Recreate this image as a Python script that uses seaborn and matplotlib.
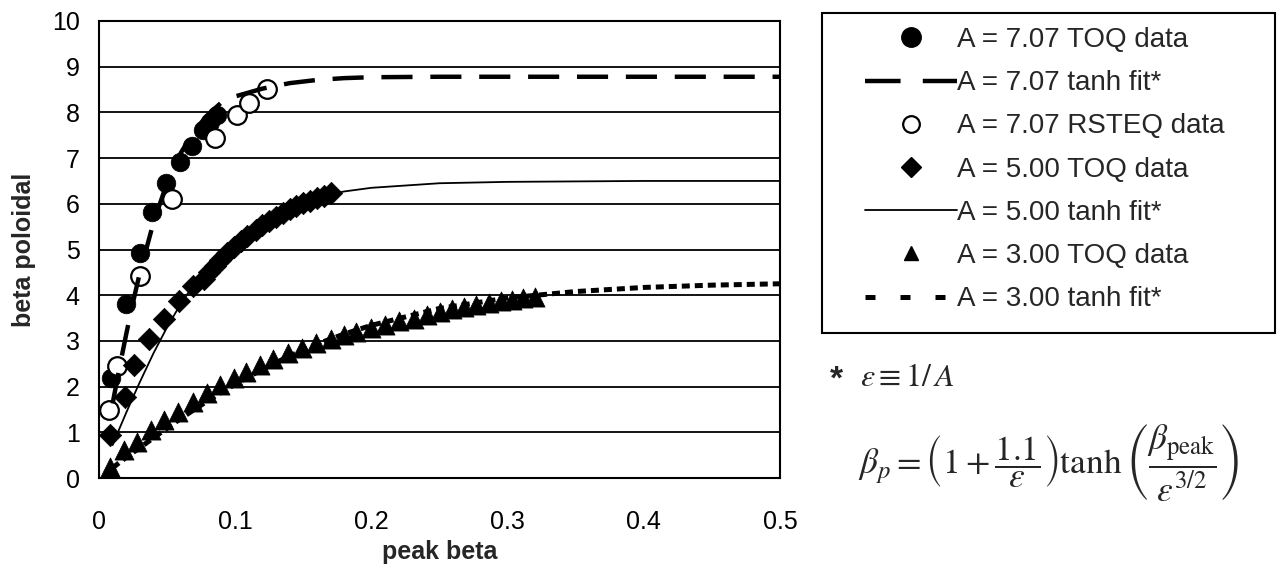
import numpy as np
import pandas as pd
import matplotlib
matplotlib.use("Agg")
import matplotlib.pyplot as plt
from matplotlib.lines import Line2D
from matplotlib.patches import Rectangle
import seaborn as sns

# ---- datos ----
toq707_x = [0.0088, 0.0196, 0.0301, 0.0389, 0.0492, 0.0595, 0.0685, 0.0766, 0.0815, 0.0864]
toq707_y = [2.18, 3.81, 4.92, 5.82, 6.45, 6.92, 7.26, 7.61, 7.80, 7.94]

rsteq707_x = [0.0073, 0.0130, 0.0301, 0.0538, 0.0852, 0.1011, 0.1101, 0.1231]
rsteq707_y = [1.49, 2.44, 4.42, 6.10, 7.43, 7.94, 8.20, 8.51]

toq500_x = [0.008, 0.019, 0.026, 0.037, 0.048, 0.059, 0.069, 0.077, 0.081, 0.085,
            0.089, 0.094, 0.099, 0.104, 0.109, 0.115, 0.120, 0.125, 0.130, 0.135,
            0.140, 0.145, 0.150, 0.155, 0.160, 0.165, 0.170]
toq500_y = [0.94, 1.78, 2.47, 3.04, 3.49, 3.88, 4.20, 4.36, 4.50, 4.64,
            4.77, 4.92, 5.06, 5.18, 5.30, 5.42, 5.53, 5.62, 5.72, 5.80,
            5.88, 5.95, 6.01, 6.07, 6.12, 6.18, 6.23]

toq300_x = [0.008, 0.018, 0.028, 0.038, 0.048, 0.058, 0.069, 0.079, 0.089, 0.099,
            0.108, 0.118, 0.128, 0.139, 0.149, 0.159, 0.170, 0.180, 0.189, 0.200,
            0.210, 0.220, 0.231, 0.241, 0.250, 0.259, 0.268, 0.277, 0.286, 0.295,
            0.303, 0.311, 0.320]
toq300_y = [0.25, 0.61, 0.79, 1.05, 1.27, 1.45, 1.67, 1.85, 2.03, 2.18,
            2.33, 2.47, 2.60, 2.73, 2.84, 2.95, 3.04, 3.13, 3.20, 3.28,
            3.35, 3.44, 3.49, 3.57, 3.63, 3.69, 3.74, 3.79, 3.83, 3.87,
            3.90, 3.94, 3.97]

fit_x = [0.01, 0.015, 0.02, 0.025, 0.03, 0.04, 0.05, 0.06, 0.07, 0.08, 0.09, 0.10,
         0.12, 0.14, 0.16, 0.18, 0.20, 0.25, 0.30, 0.35, 0.40, 0.45, 0.50]
fit707_y = [1.63, 2.41, 3.15, 3.85, 4.49, 5.59, 6.46, 7.11, 7.60, 7.95, 8.22, 8.35,
            8.52, 8.64, 8.71, 8.75, 8.77, 8.78, 8.78, 8.78, 8.78, 8.78, 8.78]
fit500_y = [0.72, 1.08, 1.43, 1.77, 2.10, 2.73, 3.30, 3.81, 4.25, 4.64, 4.97, 5.24,
            5.67, 5.96, 6.15, 6.27, 6.35, 6.45, 6.48, 6.49, 6.50, 6.50, 6.50]
fit300_y = [0.22, 0.34, 0.45, 0.56, 0.66, 0.88, 1.09, 1.30, 1.50, 1.69, 1.88, 2.05,
            2.38, 2.67, 2.93, 3.15, 3.34, 3.71, 3.94, 4.08, 4.17, 4.22, 4.25]

x_ticks = [0, 0.1, 0.2, 0.3, 0.4, 0.5]
x_tick_labels = ["0", "0.1", "0.2", "0.3", "0.4", "0.5"]
y_ticks = list(range(0, 11))

legend_labels = ["A = 7.07 TOQ data", "A = 7.07 tanh fit*", "A = 7.07 RSTEQ data",
                 "A = 5.00 TOQ data", "A = 5.00 tanh fit*", "A = 3.00 TOQ data",
                 "A = 3.00 tanh fit*"]

# ---- estilo ----
sns.set_style("white")
plt.rcParams['font.family'] = ['Liberation Sans', 'DejaVu Sans']
plt.rcParams['mathtext.fontset'] = 'stix'

fig = plt.figure(figsize=(12.85, 5.68), dpi=100)
ax = fig.add_axes([99 / 1285, 1 - 478 / 568, 681 / 1285, 457 / 568])

df_toq707 = pd.DataFrame({'x': toq707_x, 'y': toq707_y})
df_rsteq707 = pd.DataFrame({'x': rsteq707_x, 'y': rsteq707_y})
df_toq500 = pd.DataFrame({'x': toq500_x, 'y': toq500_y})
df_toq300 = pd.DataFrame({'x': toq300_x, 'y': toq300_y})
df_fit = pd.DataFrame({'x': fit_x, 'f707': fit707_y, 'f500': fit500_y, 'f300': fit300_y})

# lineas horizontales de la rejilla
for yv in y_ticks[1:]:
    ax.axhline(yv, color='black', lw=1.3, zorder=0)

sns.scatterplot(data=df_toq707, x='x', y='y', marker='o', s=180, color='black',
                edgecolor='black', linewidth=0.5, ax=ax, zorder=3)
sns.lineplot(data=df_fit, x='x', y='f707', color='black', linewidth=3.2,
             linestyle=(0, (7, 4)), sort=False, estimator=None, ax=ax, zorder=4)
sns.scatterplot(data=df_rsteq707, x='x', y='y', marker='o', s=180, color='white',
                edgecolor='black', linewidth=1.6, ax=ax, zorder=3)
sns.scatterplot(data=df_toq500, x='x', y='y', marker='D', s=130, color='black',
                edgecolor='black', linewidth=0.5, ax=ax, zorder=3)
sns.lineplot(data=df_fit, x='x', y='f500', color='black', linewidth=1.3,
             sort=False, estimator=None, ax=ax, zorder=4)
sns.scatterplot(data=df_toq300, x='x', y='y', marker='^', s=190, color='black',
                edgecolor='black', linewidth=0.5, ax=ax, zorder=3)
sns.lineplot(data=df_fit, x='x', y='f300', color='black', linewidth=3.6,
             linestyle=(0, (1.6, 1.0)), sort=False, estimator=None, ax=ax, zorder=2)

ax.set_xlim(0, 0.5)
ax.set_ylim(0, 10)
ax.set_xticks(x_ticks)
ax.set_xticklabels(x_tick_labels)
ax.set_yticks(y_ticks)
ax.tick_params(axis='both', direction='out', length=6, width=1.3, labelsize=18,
               color='black', labelcolor='black')
ax.tick_params(axis='x', pad=17)
ax.tick_params(axis='y', pad=8)
for sp in ax.spines.values():
    sp.set_color('black')
    sp.set_linewidth(1.5)
ax.set_xlabel('peak beta', fontsize=18, fontweight='bold', labelpad=4)
ax.set_ylabel('beta poloidal', fontsize=18, fontweight='bold', labelpad=11)

# leyenda
handles = [
    Line2D([], [], ls='none', marker='o', ms=14, color='black'),
    Line2D([], [], color='black', lw=3.2, ls=(0, (8, 5))),
    Line2D([], [], ls='none', marker='o', ms=12, mfc='white', mec='black', mew=1.6),
    Line2D([], [], ls='none', marker='D', ms=10, color='black'),
    Line2D([], [], color='black', lw=1.3),
    Line2D([], [], ls='none', marker='^', ms=10, color='black'),
    Line2D([], [], color='black', lw=3.6, ls=(0, (2, 5))),
]
fig.legend(handles, legend_labels, loc='upper left',
           bbox_to_anchor=(865 / 1285, 1 - 27 / 568), frameon=False,
           fontsize=20, handlelength=3.3, handletextpad=0.0, borderpad=0,
           borderaxespad=0, labelspacing=0.62)
fig.patches.append(Rectangle((822 / 1285, 1 - 333 / 568), 453 / 1285, 320 / 568,
                             transform=fig.transFigure, fill=False,
                             edgecolor='black', lw=1.5))

# formula
fig.text(830 / 1285, 1 - 380 / 568, '*', fontsize=24, fontweight='bold',
         va='center', ha='left')
fig.text(860 / 1285, 1 - 378 / 568, r'$\varepsilon \equiv 1/\,A$', fontsize=23,
         va='center', ha='left')
fig.text(858 / 1285, 1 - 462 / 568,
         r'$\beta_p = \left(1 + \dfrac{1.1}{\varepsilon}\right)\tanh\left(\dfrac{\beta_{\mathrm{peak}}}{\varepsilon^{3/2}}\right)$',
         fontsize=25.5, va='center', ha='left')

fig.savefig('out.png', dpi=100)
